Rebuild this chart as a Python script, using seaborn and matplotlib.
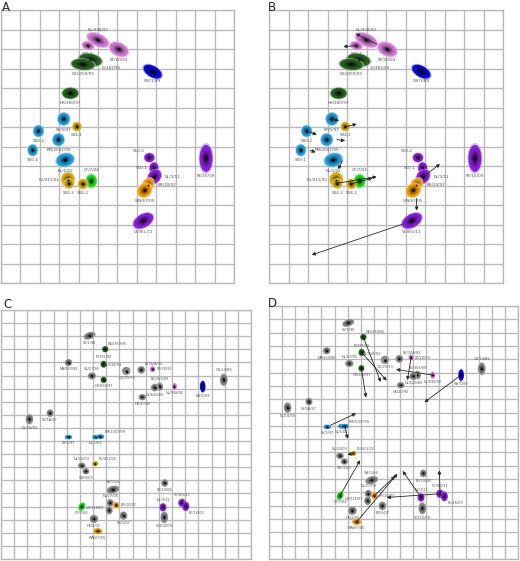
import numpy as np
import pandas as pd
import matplotlib
matplotlib.use("Agg")
import matplotlib.pyplot as plt
import matplotlib.colors as mcolors
from matplotlib.patches import Ellipse
import seaborn as sns

# --- DATA: panels A / B (same map, B adds arrows) ---
names_ab = ["NL/938/92", "S95-1", "ST/20/93", "FI/381/95", "WU/359/95", "WY/1/89",
            "HK/280/97", "SY/5/97", "S04-1", "S00-2", "PM/2007/99", "S00-1", "NL/1/02",
            "CF/7/04", "FU/411/02", "S04-3", "S04-2", "S10-2", "S10-1", "NL/3/11",
            "BR/10/07", "WN/67/05", "VI/361/11", "PE/16/09"]
x_ab = [4.99, 4.48, 6.07, 4.60, 4.22, 7.81, 3.57, 3.23, 3.91, 1.93, 2.96, 1.63, 3.30,
        4.65, 3.45, 3.50, 4.22, 7.64, 7.88, 7.90, 7.55, 7.40, 7.33, 10.56]
y_ab = [1.54, 1.83, 2.02, 2.56, 2.79, 3.16, 4.27, 5.59, 5.98, 6.21, 6.65, 7.19, 7.69,
        8.77, 8.70, 8.90, 8.92, 7.57, 8.10, 8.55, 8.98, 9.25, 10.81, 7.61]
w_ab = [1.18, 0.62, 1.03, 1.18, 1.18, 1.03, 0.82, 0.62, 0.46, 0.53, 0.60, 0.50, 0.92,
        0.56, 0.68, 0.50, 0.50, 0.52, 0.46, 0.80, 0.78, 0.78, 1.10, 0.67]
h_ab = [0.62, 0.41, 0.67, 0.62, 0.56, 0.56, 0.56, 0.64, 0.46, 0.58, 0.62, 0.58, 0.67,
        0.67, 0.75, 0.50, 0.50, 0.46, 0.56, 0.62, 0.56, 0.66, 0.67, 1.38]
ang_ab = [25, 15, 25, 10, 5, 30, 0, 0, 0, 0, 0, 0, -15,
          0, 0, 0, 0, 0, 0, -50, -55, -40, -30, 0]
grp_ab = ["pink", "pink", "pink", "dkgreen", "dkgreen", "navy", "dkgreen", "ltblue",
          "gold", "ltblue", "ltblue", "ltblue", "ltblue", "green", "gold", "gold", "gold",
          "purple", "purple", "purple", "orange", "orange", "purple", "purple"]
lab_ab = ["a", "b", "b", "br", "b", "b", "b", "b", "b", "b", "b", "b", "b",
          "a", "l", "b", "b", "al", "l", "r", "r", "b", "b", "b"]

# arrows in panel B: (x0, y0, x1, y1)
arrows_b = [(5.55, 1.76, 4.45, 1.21), (4.41, 1.83, 3.81, 1.88), (3.21, 5.59, 3.59, 5.68),
            (3.95, 5.98, 4.50, 5.85), (1.93, 6.21, 2.45, 6.39), (3.47, 6.65, 3.90, 6.70),
            (2.10, 7.19, 2.39, 7.30), (3.76, 7.73, 3.55, 8.17), (3.47, 8.89, 5.52, 8.55),
            (4.22, 8.92, 5.30, 8.62), (7.91, 8.55, 8.77, 7.90), (7.57, 9.66, 7.57, 10.29),
            (6.89, 10.97, 2.19, 12.56)]

# --- DATA: panels C / D (same strains, two maps) ---
names_cd = ["SY/1/96", "WU/359/95", "NA/933/95", "FI/381/95", "NL/17/95", "HK/280/97",
            "NL/018/93", "GD/25/93", "BE/32A/92", "ST/20/93", "BE/353/89", "NL/620/89",
            "NL/938/92", "WY/1/89", "GU/54/89", "HK/20/90", "SY/5A/97", "NL/18/93",
            "SY/5/97", "NL/1/02", "PM/2007/99", "FU/411/02", "NL/22/03", "WY/3/03",
            "WE/1/04", "PE/10/08", "NL/27/08", "UR/716/07", "BR/10/07", "CF/7/04",
            "BR/1/07", "HK/2/05", "WN/67/05", "NL/3/11", "VI/361/11", "PE/16/09", "VI/210/09"]
x_c = [6.73, 7.92, 5.13, 7.80, 6.91, 7.80, 9.52, 9.56, 10.66, 11.52, 12.06, 11.68,
       13.18, 15.33, 16.93, 10.74, 3.73, 2.16, 5.13, 7.21, 7.54, 7.16, 6.14, 6.45,
       8.51, 12.44, 8.30, 8.22, 8.76, 6.14, 9.31, 7.06, 7.36, 12.31, 13.76, 14.04, 12.41]
y_c = [1.96, 2.99, 4.01, 4.14, 5.03, 5.33, 4.65, 4.70, 4.57, 4.52, 5.85, 5.92,
       5.84, 5.84, 5.33, 6.65, 7.87, 8.33, 9.70, 9.70, 9.67, 11.73, 11.88, 12.31,
       13.71, 13.20, 14.72, 15.28, 14.90, 15.00, 15.69, 15.94, 16.88, 15.06, 14.72, 14.98, 15.82]
x_d = [6.05, 7.20, 4.40, 7.07, 6.13, 7.05, 8.85, 8.88, 9.95, 10.84, 11.33, 11.02,
       12.49, 14.66, 16.23, 10.05, 3.05, 1.42, 4.45, 5.55, 5.80, 6.44, 5.42, 5.75,
       7.84, 11.78, 7.58, 7.53, 8.04, 5.42, 8.65, 6.36, 6.69, 11.60, 13.05, 13.38, 11.70]
y_d = [1.27, 2.34, 3.36, 3.49, 4.32, 4.68, 4.05, 4.10, 3.97, 3.87, 5.19, 5.27,
       5.19, 5.19, 4.71, 5.95, 7.18, 7.63, 9.08, 9.03, 9.03, 11.07, 11.25, 11.68,
       13.08, 12.57, 14.10, 14.63, 14.25, 14.25, 15.01, 15.37, 16.21, 14.38, 14.10, 14.30, 15.19]
w_cd = [0.90, 0.45, 0.55, 0.45, 0.60, 0.42, 0.62, 0.40, 0.55, 0.38, 0.50, 0.55,
        0.35, 0.40, 0.55, 0.55, 0.50, 0.55, 0.55, 0.55, 0.60, 0.45, 0.55, 0.50,
        0.95, 0.50, 0.50, 0.50, 0.45, 0.65, 0.55, 0.62, 0.65, 0.50, 0.55, 0.50, 0.55]
h_cd = [0.50, 0.45, 0.50, 0.50, 0.50, 0.45, 0.60, 0.40, 0.55, 0.42, 0.60, 0.55,
        0.50, 0.85, 0.90, 0.45, 0.55, 0.75, 0.33, 0.33, 0.35, 0.35, 0.45, 0.45,
        0.55, 0.55, 0.55, 0.60, 0.45, 0.45, 0.60, 0.60, 0.45, 0.60, 0.60, 0.70, 0.85]
ang_cd = [-20, 0, -10, 0, 0, 0, 0, 0, 0, 0, 0, 0,
          0, 0, 0, 0, 0, 0, 0, 0, 0, -20, 0, 0,
          -15, 0, 0, 0, 0, -60, 0, 0, 0, 0, 0, 0, 0]
grp_cd = ["gray", "dkgreen", "gray", "dkgreen", "gray", "dkgreen", "gray", "gray", "gray",
          "pink", "gray", "gray", "pink", "navy", "gray", "gray", "gray", "gray",
          "ltblue", "ltblue", "ltblue", "gold", "gray", "gray", "gray", "gray", "gray",
          "gray", "orange", "green", "gray", "gray", "orange", "purple", "purple", "purple", "gray"]
lab_cd = ["b", "ar", "b", "a", "a", "b", "al", "b", "ar", "r", "a", "b",
          "b", "b", "a", "b", "b", "b", "b", "b", "ar", "ar", "a", "b",
          "a", "b", "a", "lu", "r", "b", "b", "b", "b", "a", "a", "br", "b"]

# arrows in panel D
arrows_d = [(7.20, 2.34, 8.52, 5.70), (7.07, 3.49, 8.98, 5.60), (7.05, 4.68, 7.40, 6.87),
            (10.84, 3.87, 10.56, 5.57), (12.49, 5.19, 9.69, 4.76), (14.50, 5.30, 11.86, 7.23),
            (4.70, 8.95, 6.64, 8.07), (5.80, 9.10, 6.00, 9.97), (6.44, 11.07, 5.98, 11.16),
            (5.42, 14.25, 6.95, 11.58), (6.69, 16.21, 9.80, 12.60), (8.04, 14.25, 9.62, 12.77),
            (11.60, 14.38, 10.20, 12.39), (13.05, 14.10, 8.98, 14.38), (13.05, 14.10, 13.00, 12.34)]

palette = {"pink": "#d77fd7", "dkgreen": "#2b6224", "navy": "#0a0ad0", "ltblue": "#2c9fdc",
           "gold": "#d8ae1e", "green": "#22e022", "purple": "#8a22d8", "orange": "#f0a010",
           "gray": "#8e8e8e"}

sns.set_style("white")
plt.rcParams["font.family"] = ["DejaVu Sans"]

fig = plt.figure(figsize=(5.2, 5.61), dpi=100)


def blob(ax, x, y, w, h, ang, color, n=10):
    base = np.array(mcolors.to_rgb(color))
    halo = base * 0.45 + 0.55
    ax.add_patch(Ellipse((x, y), w * 1.14, h * 1.14, angle=ang, fc=halo, ec="none",
                         alpha=0.75, zorder=3))
    for k in range(n):
        s = 1 - k / n
        t = (k / (n - 1)) ** 1.8 * 0.93
        ax.add_patch(Ellipse((x, y), w * s, h * s, angle=ang, fc=base * (1 - t),
                             ec="none", zorder=3))


def panel(rect, ncol, nrow, df, fs):
    ax = fig.add_axes(rect)
    ax.set_xlim(0, ncol)
    ax.set_ylim(nrow, 0)
    ax.set_xticks(np.arange(0, ncol + 1))
    ax.set_yticks(np.arange(0, nrow + 1))
    ax.grid(True, color="#b8b8b8", lw=0.95)
    ax.tick_params(length=0, labelbottom=False, labelleft=False)
    for sp in ax.spines.values():
        sp.set_color("#b8b8b8")
        sp.set_linewidth(0.95)
    ax.set_axisbelow(True)
    for r in df.itertuples():
        blob(ax, r.x, r.y, r.w, r.h, r.ang, palette[r.grp])
    sns.scatterplot(data=df, x="x", y="y", color="black", s=1.5, linewidth=0,
                    ax=ax, zorder=4, legend=False)
    for r in df.itertuples():
        pad = 0.12
        if r.lab == "b":
            xy, ha, va = (r.x, r.y + r.h / 2 + pad), "center", "top"
        elif r.lab == "a":
            xy, ha, va = (r.x, r.y - r.h / 2 - pad), "center", "bottom"
        elif r.lab == "l":
            xy, ha, va = (r.x - r.w / 2 - pad, r.y), "right", "center"
        elif r.lab == "lu":
            xy, ha, va = (r.x - r.w / 2 - pad, r.y), "right", "bottom"
        elif r.lab == "r":
            xy, ha, va = (r.x + r.w / 2 + pad, r.y), "left", "center"
        elif r.lab == "br":
            xy, ha, va = (r.x + r.w / 2, r.y + r.h / 2), "left", "top"
        elif r.lab == "ar":
            xy, ha, va = (r.x + r.w / 2, r.y - r.h / 2), "left", "bottom"
        else:  # above-left
            xy, ha, va = (r.x - r.w / 2, r.y - r.h / 2), "right", "bottom"
        ax.text(xy[0], xy[1], r.name, fontsize=fs, color="#555555", ha=ha, va=va, zorder=5)
    ax.set_xlabel("")
    ax.set_ylabel("")
    return ax


def arrows(ax, lst):
    for x0, y0, x1, y1 in lst:
        ax.annotate("", xy=(x1, y1), xytext=(x0, y0), zorder=6,
                    arrowprops=dict(arrowstyle="-|>", color="#2a2a2a", lw=0.6,
                                    mutation_scale=5, shrinkA=0, shrinkB=0))


df_ab = pd.DataFrame({"name": names_ab, "x": x_ab, "y": y_ab, "w": w_ab, "h": h_ab,
                      "ang": ang_ab, "grp": grp_ab, "lab": lab_ab})
df_c = pd.DataFrame({"name": names_cd, "x": x_c, "y": y_c, "w": w_cd, "h": h_cd,
                     "ang": ang_cd, "grp": grp_cd, "lab": lab_cd})
df_d = df_c.copy()
df_d["x"] = x_d
df_d["y"] = y_d

W, H = 520, 561


def rect(x0, y0, x1, y1):
    return [x0 / W, 1 - y1 / H, (x1 - x0) / W, (y1 - y0) / H]


axA = panel(rect(1, 10, 234, 283), 12, 14, df_ab, 3.0)
axB = panel(rect(269, 10, 503, 283), 12, 14, df_ab, 3.0)
arrows(axB, arrows_b)
axC = panel(rect(1, 310, 251, 559), 19, 19, df_c, 2.5)
axD = panel(rect(269, 306, 518, 559), 19, 19, df_d, 2.5)
arrows(axD, arrows_d)

for s, (px, py) in zip("ABCD", [(2, 1), (268, 1), (3, 298), (268, 297)]):
    fig.text(px / W, 1 - py / H, s, fontsize=8.5, ha="left", va="top")

fig.savefig("out.png", dpi=100)
